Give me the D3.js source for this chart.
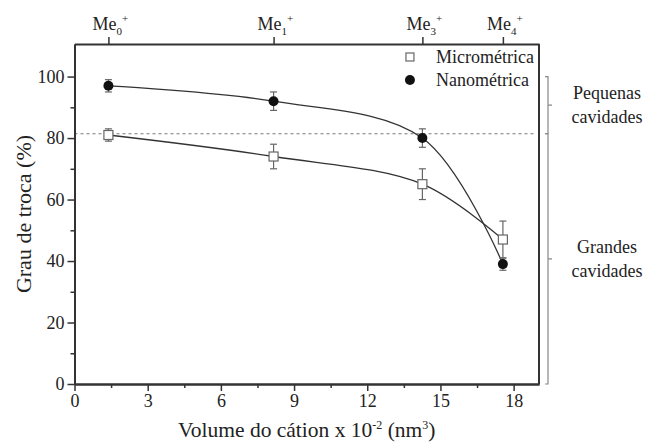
<!DOCTYPE html>
<html>
<head>
<meta charset="utf-8">
<title>Grau de troca</title>
<style type="text/css">
body { margin: 0; background: #fff; }
svg text { font-family: 'Liberation Serif', serif; fill: #222; }
.axis path, .axis line { stroke: #333; }
.curve { fill: none; stroke: #333; stroke-width: 1.3px; }
.err line { stroke: #666; stroke-width: 1.2px; }
</style>
</head>
<body>
<svg width="646" height="444"></svg>
<script src="https://cdn.jsdelivr.net/npm/d3@7/dist/d3.min.js"></script>
<script>
// data
var volume = [1.39, 8.16, 14.26, 17.56];
var cationSub = ["0", "1", "3", "4"];
var micro = [81, 74, 65, 47];
var microErr = [2, 4, 5, 6];
var nano = [97, 92, 80, 39];
var nanoErr = [2, 3, 3, 2];
var xTicks = [0, 3, 6, 9, 12, 15, 18];
var yTicks = [0, 20, 40, 60, 80, 100];
var threshold = 81.4;
var seriesNames = ["Micrométrica", "Nanométrica"];
var regionLabels = [["Pequenas", "cavidades"], ["Grandes", "cavidades"]];

var svg = d3.select("svg"),
    margin = {left: 74.5, right: 107, top: 44, bottom: 60},
    width = 646 - margin.left - margin.right,
    height = 444 - margin.top - margin.bottom;

var x = d3.scaleLinear().domain([0, 19.04]).range([0, width]);
var y = d3.scaleLinear().domain([0, 110.6]).range([height, 0]);

var g = svg.append("g").attr("transform", "translate(" + margin.left + "," + margin.top + ")");

// threshold dashed line
g.append("line")
    .attr("x1", 0).attr("x2", width - 3)
    .attr("y1", y(threshold)).attr("y2", y(threshold))
    .attr("stroke", "#777").attr("stroke-width", 1).attr("stroke-dasharray", "3,3");

// axes
g.append("g").attr("class", "axis").attr("transform", "translate(0," + height + ")")
    .call(d3.axisBottom(x).tickValues(xTicks).tickSize(7).tickPadding(3).tickSizeOuter(0));
g.append("g").attr("class", "axis").attr("transform", "translate(0," + height + ")")
    .call(d3.axisBottom(x).tickValues(d3.range(1.5, 19, 3)).tickSize(4).tickFormat("").tickSizeOuter(0));
g.append("g").attr("class", "axis")
    .call(d3.axisLeft(y).tickValues(yTicks).tickSize(7).tickPadding(3).tickSizeOuter(0));
g.append("g").attr("class", "axis")
    .call(d3.axisLeft(y).tickValues(d3.range(10, 110, 20)).tickSize(4).tickFormat("").tickSizeOuter(0));
g.append("g").attr("class", "axis")
    .call(d3.axisTop(x).tickValues(volume).tickSize(7).tickFormat("").tickSizeOuter(0));
g.append("line").attr("x1", width).attr("x2", width).attr("y1", 0).attr("y2", height)
    .attr("stroke", "#333").attr("stroke-width", 2);

svg.selectAll(".axis").attr("font-family", null).attr("font-size", null);
svg.selectAll(".axis path").attr("stroke-width", 2);
svg.selectAll(".axis line").attr("stroke-width", 1.5);
svg.selectAll(".axis text").style("font-size", "18px");

// Me labels on top axis
var me = g.selectAll(".me").data(volume).enter().append("text")
    .attr("class", "me")
    .attr("x", function(d) { return x(d) - 16; })
    .attr("y", -14)
    .style("font-size", "18px");
me.append("tspan").text("Me");
me.append("tspan").attr("dy", 5).style("font-size", "11px").text(function(d, i) { return cationSub[i]; });
me.append("tspan").attr("dy", -13).style("font-size", "11px").text("+");

// curves
var line = d3.line().curve(d3.curveCatmullRom.alpha(0.5))
    .x(function(d) { return x(d[0]); })
    .y(function(d) { return y(d[1]); });

g.append("path").attr("class", "curve").attr("d", line(d3.zip(volume, micro)));
g.append("path").attr("class", "curve").attr("d", line(d3.zip(volume, nano)));

// error bars
function errorBars(vals, errs) {
  var eb = g.append("g").attr("class", "err").selectAll("g").data(vals).enter().append("g");
  eb.append("line")
      .attr("x1", function(d, i) { return x(volume[i]); })
      .attr("x2", function(d, i) { return x(volume[i]); })
      .attr("y1", function(d, i) { return y(d - errs[i]); })
      .attr("y2", function(d, i) { return y(d + errs[i]); });
  [-1, 1].forEach(function(s) {
    eb.append("line")
        .attr("x1", function(d, i) { return x(volume[i]) - 3.5; })
        .attr("x2", function(d, i) { return x(volume[i]) + 3.5; })
        .attr("y1", function(d, i) { return y(d + s * errs[i]); })
        .attr("y2", function(d, i) { return y(d + s * errs[i]); });
  });
}
errorBars(micro, microErr);
errorBars(nano, nanoErr);

// markers
g.selectAll(".sq").data(micro).enter().append("rect")
    .attr("x", function(d, i) { return x(volume[i]) - 4.5; })
    .attr("y", function(d) { return y(d) - 4.5; })
    .attr("width", 9).attr("height", 9)
    .attr("fill", "#fff").attr("stroke", "#666").attr("stroke-width", 1.2);
g.selectAll(".dot").data(nano).enter().append("circle")
    .attr("cx", function(d, i) { return x(volume[i]); })
    .attr("cy", function(d) { return y(d); })
    .attr("r", 5).attr("fill", "#111");

// legend
var leg = g.append("g").attr("transform", "translate(" + (x(13.75)) + ",0)");
leg.append("rect").attr("x", -4).attr("y", 9).attr("width", 8).attr("height", 8)
    .attr("fill", "#fff").attr("stroke", "#666").attr("stroke-width", 1.2);
leg.append("circle").attr("cx", 0).attr("cy", 36).attr("r", 5).attr("fill", "#111");
leg.selectAll("text").data(seriesNames).enter().append("text")
    .attr("x", 26).attr("y", function(d, i) { return 19 + i * 23; })
    .style("font-size", "18px").text(function(d) { return d; });

// axis titles
g.append("text")
    .attr("transform", "translate(" + (-44) + "," + (height / 2) + ") rotate(-90)")
    .attr("text-anchor", "middle")
    .style("font-size", "22px")
    .text("Grau de troca (%)");

var xt = g.append("text")
    .attr("x", width / 2).attr("y", height + 53)
    .attr("text-anchor", "middle")
    .style("font-size", "21.5px");
xt.append("tspan").text("Volume do cátion x 10");
xt.append("tspan").attr("dy", -8).style("font-size", "12px").text("-2");
xt.append("tspan").attr("dy", 8).text(" (nm");
xt.append("tspan").attr("dy", -8).style("font-size", "12px").text("3");
xt.append("tspan").attr("dy", 8).text(")");

// brackets on the right
var bx = width + 9;
var ranges = [[100, threshold], [threshold, 0]];
ranges.forEach(function(r, i) {
  var y0 = y(r[0]), y1 = y(r[1]), ym = (y0 + y1) / 2;
  g.append("path")
      .attr("d", "M" + (bx - 3) + "," + y0 + "H" + bx + "V" + y1 + "H" + (bx - 3) +
                 "M" + bx + "," + ym + "H" + (bx + 4))
      .attr("fill", "none").attr("stroke", "#888").attr("stroke-width", 1.2);
  var t = g.append("text")
      .attr("x", width + 68).attr("y", ym - 6)
      .attr("text-anchor", "middle")
      .style("font-size", "18px");
  t.append("tspan").attr("x", width + 68).text(regionLabels[i][0]);
  t.append("tspan").attr("x", width + 68).attr("dy", 24).text(regionLabels[i][1]);
});

svg.selectAll("text").style("font-family", "'Liberation Serif', serif");
</script>
</body>
</html>
